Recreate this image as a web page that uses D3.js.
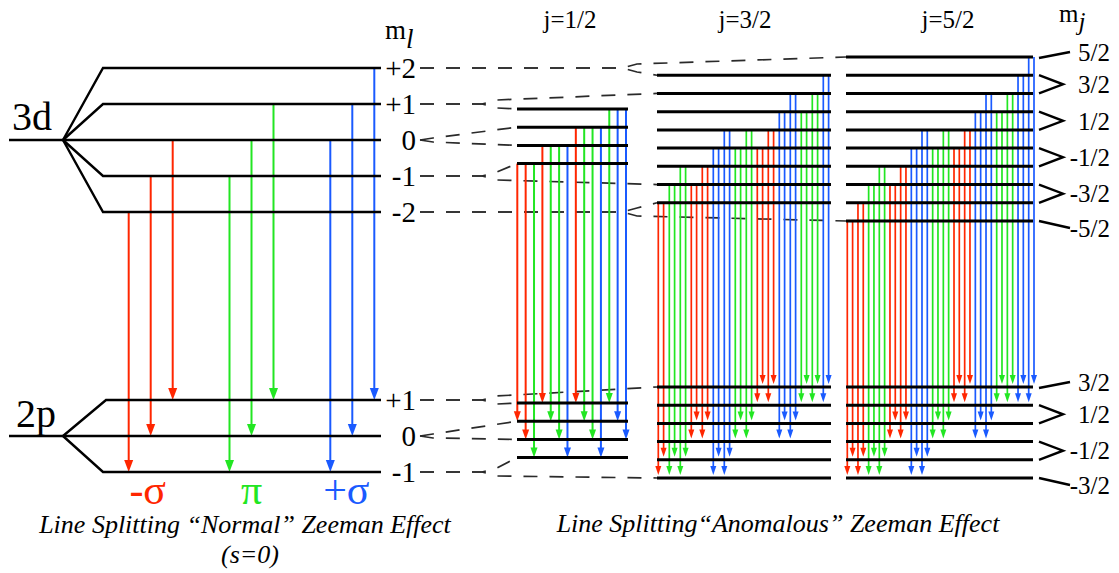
<!DOCTYPE html>
<html>
<head>
<meta charset="utf-8">
<title>Zeeman Effect</title>
<script src="https://d3js.org/d3.v7.min.js"></script>
<style>
  body { margin: 0; background: #fff; }
  svg { display: block; }
  text { font-family: "Liberation Serif", "DejaVu Serif", serif; }
</style>
</head>
<body>
<div id="chart"></div>
<script>
// ---- data ----
const polarizations = ["-σ", "π", "+σ"];
const polColors = { "-σ": "#ff2600", "π": "#22e622", "+σ": "#1a5aff" };

// normal Zeeman: m_l levels of 3d and 2p
const upperMl = [2, 1, 0, -1, -2];
const lowerMl = [1, 0, -1];
const mlText = { "2": "+2", "1": "+1", "0": "0", "-1": "-1", "-2": "-2" };

// [polarization, upper m_l, lower m_l]
const normalTransitions = [
  ["-σ", -2, -1], ["-σ", -1, 0], ["-σ", 0, 1],
  ["π", -1, -1], ["π", 0, 0], ["π", 1, 1],
  ["+σ", 0, -1], ["+σ", 1, 0], ["+σ", 2, 1]
];

// anomalous Zeeman columns
const columns = ["j=1/2", "j=3/2", "j=5/2"];
const colUpperRows = [[0, 1, 2, 3], [1, 2, 3, 4, 5, 6, 7, 8], [0, 1, 2, 3, 4, 5, 6, 7, 8, 9]];
const colLowerRows = [[0, 1, 2, 3], [0, 1, 2, 3, 4, 5], [0, 1, 2, 3, 4, 5]];

// column j=1/2: [polarization, upper row, lower row]
const col1Arrows = [
  ["-σ", 3, 1], ["-σ", 3, 2], ["π", 3, 3], ["-σ", 2, 0], ["π", 2, 1], ["π", 2, 2], ["+σ", 2, 3],
  ["-σ", 1, 0], ["π", 1, 1], ["π", 1, 2], ["+σ", 1, 3], ["π", 0, 0], ["+σ", 0, 1], ["+σ", 0, 2]
];
// columns j=3/2 and j=5/2: [polarization, upper row, lower row A, lower row B]
const col2Pairs = [
  ["-σ", 8, 5, 4], ["π", 7, 5, 4], ["π", 6, 5, 4], ["-σ", 7, 3, 2], ["-σ", 6, 3, 2],
  ["+σ", 5, 5, 4], ["+σ", 4, 5, 4], ["π", 5, 3, 2], ["π", 4, 3, 2], ["-σ", 5, 1, 0],
  ["-σ", 4, 1, 0], ["+σ", 3, 3, 2], ["+σ", 2, 3, 2], ["π", 3, 1, 0], ["π", 2, 1, 0], ["+σ", 1, 1, 0]
];
const col3Pairs = [
  ["-σ", 9, 5, 4], ["-σ", 8, 5, 4], ["π", 7, 5, 4], ["π", 6, 5, 4], ["-σ", 7, 3, 2], ["-σ", 6, 3, 2],
  ["+σ", 5, 5, 4], ["+σ", 4, 5, 4], ["π", 5, 3, 2], ["π", 4, 3, 2], ["-σ", 5, 1, 0], ["-σ", 4, 1, 0],
  ["+σ", 3, 3, 2], ["+σ", 2, 3, 2], ["π", 3, 1, 0], ["π", 2, 1, 0], ["+σ", 1, 1, 0], ["+σ", 0, 1, 0]
];

// m_j labels: [text, rows joined]
const mjUpper = [["5/2", [0]], ["3/2", [1, 2]], ["1/2", [3, 4]], ["-1/2", [5, 6]], ["-3/2", [7, 8]], ["-5/2", [9]]];
const mjLower = [["3/2", [0]], ["1/2", [1, 2]], ["-1/2", [3, 4]], ["-3/2", [5]]];

// dashed connectors: [term, m_l, split place, target column, target row]
const connectors = [
  ["3d", 2, "c2", 2, 0], ["3d", 2, "c2", 1, 1],
  ["3d", 1, "c1", 1, 2], ["3d", 1, "c1", 0, 0],
  ["3d", 0, "ml", 0, 1], ["3d", 0, "ml", 0, 2],
  ["3d", -1, "c1", 0, 3], ["3d", -1, "c1", 1, 7],
  ["3d", -2, "c2", 1, 8], ["3d", -2, "c2", 2, 9],
  ["2p", 1, "c1", 1, 0], ["2p", 1, "c1", 0, 0],
  ["2p", 0, "ml", 0, 1], ["2p", 0, "ml", 0, 2],
  ["2p", -1, "c1", 0, 3], ["2p", -1, "c1", 1, 5]
];

// ---- layout ----
const width = 1119, height = 573;
const svg = d3.select("#chart").append("svg").attr("width", width).attr("height", height)
  .attr("font-family", "Liberation Serif, DejaVu Serif, serif");

const yUp = d3.scaleLinear().domain([2, -2]).range([68, 212]);
const yLow = d3.scaleLinear().domain([1, -1]).range([400, 472]);
const rowUp = d3.scaleLinear().domain([0, 9]).range([57, 221]);
const rowLow = d3.scaleLinear().domain([0, 5]).range([387, 478]);
const rowOffUp = [2.85, 0, 0], rowOffLow = [0.88, 0, 0];
const colExtent = [[517, 628], [657, 831], [846, 1033]];
const colY = (c, r) => rowUp(r + rowOffUp[c]);
const colYLow = (c, r) => rowLow(r + rowOffLow[c]);

const polX = d3.scalePoint().domain(polarizations).range([150.7, 352.3]);
const x1 = d3.scaleLinear().domain([0, 13]).range([517.3, 626]);
const x2 = d3.scaleLinear().domain([0, 15]).range([658.3, 823.3]);
const x3 = d3.scaleLinear().domain([0, 17]).range([847.3, 1028.7]);
const pairGap = 5.3;

function arrow(g, x, ya, yb, color, w, hw, hl) {
  g.append("line").attr("x1", x).attr("x2", x).attr("y1", ya).attr("y2", yb - hl + 1)
    .attr("stroke", color).attr("stroke-width", w);
  g.append("path").attr("d", `M${x - hw / 2},${yb - hl}L${x + hw / 2},${yb - hl}L${x},${yb}Z`)
    .attr("fill", color);
}

// ---- dashed connectors ----
const gDash = svg.append("g").attr("fill", "none").attr("stroke", "#2a2a2a")
  .attr("stroke-width", 1.7).attr("stroke-dasharray", "14,12");
const splitX = { ml: 420, c1: 482, c2: 622 };
connectors.forEach(([term, ml, sp, c, r]) => {
  const y0 = term === "3d" ? yUp(ml) : yLow(ml);
  const ty = term === "3d" ? colY(c, r) : colYLow(c, r);
  const sx = splitX[sp];
  const dir = Math.sign(ty - y0) || 1;
  const armLen = sp === "ml" ? 13 : 15;
  const armDy = sp === "ml" ? 2 : 4;
  const pts = [[420, y0], [sx, y0], [sx + armLen, y0 + dir * armDy], [colExtent[c][0], ty]];
  gDash.append("path").attr("d", d3.line()(pts));
});

// ---- normal Zeeman ----
const gN = svg.append("g");
const groupIdx = {};
normalTransitions.forEach(([p, u, l]) => {
  const i = groupIdx[p] = (groupIdx[p] === undefined ? 0 : groupIdx[p] + 1);
  arrow(gN, polX(p) + (i - 1) * 22, yUp(u), yLow(l), polColors[p], 2, 9, 12);
});
const gL = svg.append("g").attr("stroke", "#000").attr("stroke-width", 2.4).attr("fill", "none");
gL.append("line").attr("x1", 9).attr("x2", 63).attr("y1", yUp(0)).attr("y2", yUp(0));
upperMl.forEach(m => {
  gL.append("path").attr("d", `M63,${yUp(0)}L103,${yUp(m)}L381,${yUp(m)}`);
});
gL.append("line").attr("x1", 9).attr("x2", 63).attr("y1", yLow(0)).attr("y2", yLow(0));
lowerMl.forEach(m => {
  gL.append("path").attr("d", `M63,${yLow(0)}L${m === 1 ? 106 : 103},${yLow(m)}L381,${yLow(m)}`);
});

svg.append("text").attr("x", 12).attr("y", 130).attr("font-size", 40).text("3d");
svg.append("text").attr("x", 16).attr("y", 427).attr("font-size", 40).text("2p");

const mlG = svg.append("g").attr("font-size", 29).attr("text-anchor", "end");
upperMl.forEach(m => mlG.append("text").attr("x", 416).attr("y", yUp(m)).attr("dy", "0.35em").text(mlText[m]));
lowerMl.forEach(m => mlG.append("text").attr("x", 416).attr("y", yLow(m)).attr("dy", "0.35em").text(mlText[m]));

const mlHead = svg.append("text").attr("x", 385).attr("y", 39).attr("font-size", 27);
mlHead.append("tspan").text("m");
mlHead.append("tspan").attr("font-style", "italic").attr("dy", 9).text("l");

polarizations.forEach(p => {
  svg.append("text").attr("x", polX(p) + (p === "-σ" ? -3 : p === "+σ" ? -6 : 0)).attr("y", 504)
    .attr("text-anchor", "middle").attr("font-size", 42).attr("fill", polColors[p]).text(p);
});

// ---- anomalous Zeeman ----
const gA = svg.append("g");
col1Arrows.forEach(([p, u, l], i) => {
  arrow(gA, x1(i), colY(0, u), colYLow(0, l), polColors[p], 2, 7, 10);
});
[[col2Pairs, x2, 1], [col3Pairs, x3, 2]].forEach(([pairs, xs, c]) => {
  pairs.forEach(([p, u, la, lb], i) => {
    arrow(gA, xs(i), colY(c, u), colYLow(c, la) - 3, polColors[p], 1.7, 6, 9);
    arrow(gA, xs(i) + pairGap, colY(c, u), colYLow(c, lb) - 3, polColors[p], 1.7, 6, 9);
  });
});

const gC = svg.append("g").attr("stroke", "#000").attr("stroke-width", 3);
columns.forEach((name, c) => {
  const [xa, xb] = colExtent[c];
  colUpperRows[c].forEach(r => gC.append("line").attr("x1", xa).attr("x2", xb).attr("y1", colY(c, r)).attr("y2", colY(c, r)));
  colLowerRows[c].forEach(r => gC.append("line").attr("x1", xa).attr("x2", xb).attr("y1", colYLow(c, r)).attr("y2", colYLow(c, r)));
  svg.append("text").attr("x", [570, 745, 948][c]).attr("y", 28).attr("text-anchor", "middle")
    .attr("font-size", 25).text(name);
});

// m_j labels and brackets
const gB = svg.append("g").attr("stroke", "#000").attr("stroke-width", 2.4).attr("fill", "none");
const mjG = svg.append("g").attr("font-size", 25).attr("text-anchor", "end");
function mjLabels(list, yf) {
  list.forEach(([t, rows], i) => {
    let ly;
    if (rows.length === 2) {
      const ya = yf(rows[0]), yb = yf(rows[1]);
      ly = (ya + yb) / 2;
      gB.append("path").attr("d", `M1039,${ya}L1063,${ly}L1039,${yb}`);
    } else {
      const y = yf(rows[0]);
      ly = i === 0 ? y - 5 : y + 7;
      gB.append("path").attr("d", `M1039,${y + (i === 0 ? 1 : 0)}L1070,${ly}`);
    }
    mjG.append("text").attr("x", 1110).attr("y", ly).attr("dy", "0.35em").text(t);
  });
}
mjLabels(mjUpper, r => colY(2, r));
mjLabels(mjLower, r => colYLow(2, r));

const mjHead = svg.append("text").attr("x", 1059).attr("y", 22).attr("font-size", 25);
mjHead.append("tspan").text("m");
mjHead.append("tspan").attr("font-style", "italic").attr("dy", 8).text("j");

// captions
const cap = svg.append("g").attr("font-size", 26).attr("font-style", "italic").attr("text-anchor", "middle");
cap.append("text").attr("x", 245).attr("y", 533).text("Line Splitting “Normal” Zeeman Effect");
cap.append("text").attr("x", 250).attr("y", 563).text("(s=0)");
cap.append("text").attr("x", 778).attr("y", 532).text("Line Splitting“Anomalous” Zeeman Effect");
</script>
</body>
</html>
